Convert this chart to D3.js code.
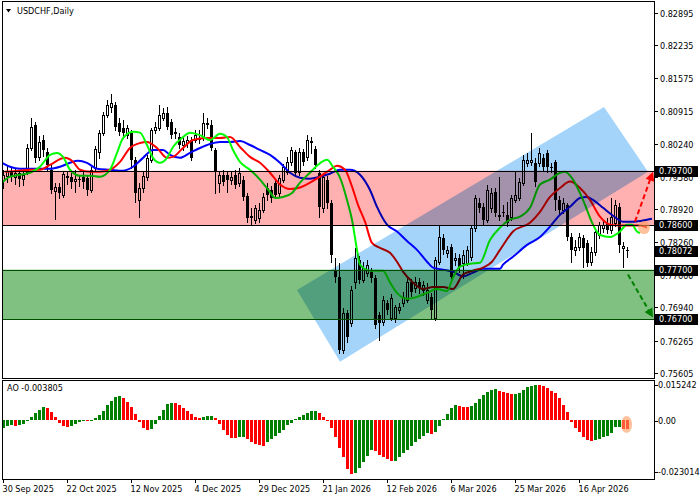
<!DOCTYPE html>
<html><head><meta charset="utf-8">
<script src="https://cdn.jsdelivr.net/npm/d3@7"></script>
<style>
body{margin:0;background:#fff}
svg{display:block}
text{font-family:"DejaVu Sans Condensed","DejaVu Sans","Liberation Sans",sans-serif;font-size:9px;fill:#000}
</style>
</head><body>
<svg id="c" width="700" height="500"></svg>
<script>
// ---------- DATA ----------
const symbolTitle = "USDCHF,Daily";
const aoTitle = "AO -0.003805";
const tickBars = [0,16,32,48,64,80,96,112,128,144];
const tickLabels = ["30 Sep 2025","22 Oct 2025","12 Nov 2025","4 Dec 2025","29 Dec 2025","21 Jan 2026","12 Feb 2026","6 Mar 2026","25 Mar 2026","16 Apr 2026"];
const priceTicks = [0.82895,0.82235,0.81575,0.80915,0.80240,0.79580,0.78920,0.78260,0.77600,0.76940,0.76265,0.75605];
const priceTickLabels = ["0.82895","0.82235","0.81575","0.80915","0.80240","0.79580","0.78920","0.78260","0.77600","0.76940","0.76265","0.75605"];
const markedPrices = [0.79700,0.78600,0.78072,0.77700,0.76700];
const markedLabels = ["0.79700","0.78600","0.78072","0.77700","0.76700"];
const aoTicks = [0.015242,0,-0.023014];
const aoTickLabels = ["0.015242","0.00","-0.023014"];
const resistanceZone = [0.78600,0.79700];
const supportZone = [0.76700,0.77700];
const channel = [[73.5,0.7729],[84.25,0.7584],[161.25,0.7968],[150.25,0.8099]];
const upArrow = [[158,0.7867],[162.5,0.7968]];
const downArrow = [[156.25,0.7760],[162.5,0.7673]];
const priceMark = [160.25,0.7855];
const aoMark = [155.9,-0.0018];

const open = [
.7952,.7960,.7970,.7958,.7966,.7954,.7968,.8016,.8063,.7998,
.8032,.8008,.7972,.7929,.7938,.7921,.7960,.7958,.7950,.7954,
.7958,.7956,.7931,.7976,.8008,.8047,.8083,.8099,.8103,.8067,
.8057,.8042,.8047,.7992,.7911,.7936,.7958,.7992,.8053,.8057,
.8077,.8087,.8069,.8049,.8038,.8022,.8026,.8032,.8032,.8036,
.8036,.8067,.8063,.8012,.7946,.7962,.7962,.7952,.7962,.7946,
.7952,.7919,.7877,.7871,.7875,.7891,.7936,.7931,.7946,.7925,
.7952,.7968,.7988,.8008,.7968,.8008,.7998,.8030,.8014,.7966,
.7895,.7952,.7905,.7770,.7756,.7608,.7683,.7663,.7744,.7790,
.7750,.7764,.7766,.7754,.7679,.7665,.7703,.7673,.7673,.7689,
.7703,.7709,.7744,.7733,.7746,.7729,.7709,.7715,.7673,.7786,
.7834,.7804,.7816,.7790,.7794,.7784,.7784,.7796,.7855,.7905,
.7897,.7871,.7895,.7927,.7881,.7887,.7881,.7877,.7911,.7915,
.7946,.7986,.7988,.7986,.7986,.7996,.8006,.7978,.7988,.7911,
.7891,.7901,.7836,.7810,.7816,.7834,.7824,.7786,.7806,.7840,
.7855,.7865,.7851,.7865,.7897,.7814,.7810];
const high = [
.7972,.7980,.7976,.7974,.7972,.7970,.8024,.8077,.8069,.8040,
.8042,.8016,.7982,.7946,.7946,.7968,.7968,.7966,.7972,.7962,
.7968,.7962,.7978,.8020,.8053,.8089,.8113,.8125,.8109,.8077,
.8073,.8063,.8053,.7998,.7946,.7968,.8002,.8057,.8069,.8103,
.8097,.8099,.8075,.8057,.8047,.8038,.8040,.8038,.8053,.8053,
.8087,.8077,.8073,.8016,.7968,.7972,.7968,.7968,.7972,.7976,
.7960,.7925,.7895,.7901,.7905,.7925,.7946,.7940,.7952,.7962,
.7984,.7998,.8018,.8012,.8016,.8014,.8042,.8038,.8020,.7972,
.7964,.7960,.7911,.7794,.7784,.7693,.7689,.7737,.7814,.7798,
.7786,.7790,.7774,.7760,.7685,.7717,.7709,.7721,.7699,.7703,
.7725,.7754,.7752,.7756,.7754,.7748,.7742,.7723,.7796,.7861,
.7842,.7818,.7822,.7804,.7802,.7810,.7818,.7861,.7921,.7915,
.7905,.7942,.7936,.7936,.7958,.7901,.7907,.7921,.7968,.7956,
.8002,.8006,.8047,.7996,.8016,.8004,.8012,.7986,.7992,.7919,
.7915,.7905,.7844,.7830,.7844,.7840,.7830,.7816,.7855,.7867,
.7871,.7875,.7915,.7911,.7905,.7826,.7816];
const low = [
.7936,.7948,.7950,.7944,.7940,.7942,.7964,.8012,.7988,.7992,
.8000,.7972,.7925,.7873,.7915,.7917,.7944,.7936,.7927,.7940,
.7936,.7921,.7927,.7972,.7996,.8042,.8079,.8089,.8053,.8042,
.8036,.8036,.7976,.7907,.7877,.7927,.7952,.7988,.8047,.8053,
.8073,.8055,.8036,.8036,.8016,.8012,.8018,.7992,.8028,.8026,
.8032,.8057,.8012,.7925,.7927,.7942,.7927,.7944,.7936,.7940,
.7911,.7867,.7861,.7865,.7867,.7887,.7911,.7907,.7915,.7919,
.7948,.7964,.7982,.7960,.7962,.7982,.7992,.8006,.7976,.7877,
.7887,.7895,.7786,.7744,.7602,.7602,.7624,.7657,.7733,.7742,
.7744,.7758,.7746,.7653,.7628,.7659,.7681,.7669,.7665,.7683,
.7697,.7705,.7717,.7725,.7723,.7719,.7703,.7673,.7669,.7782,
.7802,.7796,.7750,.7780,.7766,.7754,.7780,.7790,.7849,.7887,
.7863,.7867,.7887,.7879,.7871,.7879,.7859,.7871,.7907,.7911,
.7942,.7980,.7982,.7940,.7980,.7972,.7968,.7968,.7891,.7881,
.7885,.7830,.7786,.7800,.7810,.7776,.7778,.7780,.7800,.7834,
.7847,.7844,.7844,.7859,.7806,.7776,.7796];
const close = [
.7962,.7970,.7958,.7966,.7954,.7962,.8016,.8059,.7996,.8028,
.8012,.7982,.7931,.7938,.7925,.7964,.7956,.7948,.7954,.7952,
.7948,.7931,.7972,.8014,.8047,.8083,.8103,.8107,.8059,.8049,
.8047,.8057,.7992,.7925,.7936,.7960,.7996,.8053,.8059,.8083,
.8087,.8059,.8042,.8045,.8022,.8030,.8032,.7996,.8042,.8032,
.8067,.8063,.8016,.7968,.7962,.7948,.7952,.7958,.7942,.7966,
.7917,.7875,.7879,.7895,.7891,.7917,.7921,.7915,.7921,.7956,
.7978,.7988,.8012,.7966,.8008,.7988,.8032,.8026,.7982,.7897,
.7958,.7905,.7800,.7756,.7608,.7683,.7634,.7729,.7794,.7750,
.7774,.7780,.7754,.7659,.7663,.7709,.7689,.7713,.7695,.7695,
.7715,.7744,.7725,.7746,.7733,.7739,.7729,.7689,.7790,.7836,
.7810,.7810,.7756,.7794,.7776,.7800,.7810,.7855,.7915,.7895,
.7871,.7931,.7925,.7885,.7877,.7885,.7865,.7915,.7921,.7948,
.7992,.7992,.7992,.7948,.8006,.7978,.7978,.7976,.7911,.7891,
.7905,.7836,.7810,.7816,.7836,.7814,.7784,.7806,.7847,.7861,
.7861,.7851,.7877,.7901,.7820,.7818,.78072];

// Alligator lines: [bar, price]
const jawLine = [[-0.25,.7986],[1.75,.7978],[4.25,.7974],[9.25,.7974],[11.75,.7974],[14.25,.7978],[16.75,.7986],[18.75,.7990],[21,.7986],[23.5,.7974],[26.75,.7972],[30,.7970],[32.5,.7978],[35,.7996],[37.5,.8012],[40,.8012],[41.75,.8002],[44.25,.7996],[46.75,.8006],[49.25,.8016],[51.75,.8024],[54.25,.8028],[56.75,.8028],[59.25,.8030],[61.75,.8022],[64.25,.8012],[66.75,.8002],[69.25,.7986],[71.75,.7966],[74.25,.7956],[76.75,.7954],[79.25,.7958],[81.75,.7964],[84.25,.7972],[86.75,.7972],[89.25,.7962],[91.75,.7931],[93.5,.7897],[96,.7861],[98.5,.7847],[101,.7828],[103.5,.7810],[106,.7786],[107.5,.7774],[110,.7770],[112.5,.7766],[115,.7756],[117.5,.7764],[120,.7772],[124.25,.7772],[125,.7780],[127.5,.7796],[131,.7820],[134.25,.7836],[136.75,.7857],[139.25,.7881],[141.75,.7897],[144.25,.7915],[146,.7917],[147.5,.7911],[150,.7895],[152.5,.7879],[155,.7867],[157.5,.7867],[161,.7871],[162.25,.7873]];
const teethLine = [[0.5,.7968],[4.25,.7970],[6.75,.7972],[9.25,.7972],[11.75,.7982],[15.5,.7996],[17.5,.7988],[19.25,.7972],[21.75,.7968],[24.25,.7968],[26.75,.7972],[29.25,.7988],[31.75,.8016],[34.25,.8026],[36,.8028],[38.5,.8016],[41,.7996],[42.5,.7998],[45,.8016],[47.5,.8032],[51,.8036],[54.25,.8036],[56.75,.8038],[59.25,.8018],[61.75,.7998],[64.25,.7986],[66.75,.7966],[69.25,.7942],[71.75,.7933],[74.25,.7936],[76.75,.7946],[79.25,.7958],[81.75,.7972],[83.5,.7980],[85.5,.7972],[87.25,.7938],[88.75,.7901],[90.5,.7867],[92.25,.7824],[94.25,.7814],[96.75,.7804],[98.5,.7786],[100,.7766],[102.5,.7744],[105,.7731],[107.5,.7735],[110,.7735],[112.5,.7731],[115,.7760],[117.5,.7768],[120,.7774],[122.25,.7786],[124.25,.7810],[127.5,.7847],[131.75,.7865],[134.25,.7887],[136.75,.7917],[139.25,.7935],[141.75,.7948],[144.25,.7935],[146.75,.7911],[149.25,.7877],[151.75,.7861],[154.25,.7859],[159.25,.7859],[161,.7855]];
const lipsLine = [[-0.25,.7946],[1.75,.7958],[4.25,.7962],[6.75,.7966],[9.25,.7978],[11.75,.8002],[13.5,.8006],[15,.7998],[16.75,.7972],[19.25,.7960],[21.75,.7960],[24.25,.7958],[26.75,.7972],[28.5,.8006],[30,.8036],[32.5,.8049],[34.25,.8047],[36,.8022],[37.5,.7996],[39.25,.7986],[41,.7996],[42.5,.8018],[45,.8038],[46.75,.8047],[49.25,.8042],[51.75,.8032],[54.25,.8045],[56,.8038],[57.5,.8012],[59.25,.7988],[61.75,.7972],[64.25,.7952],[66.75,.7927],[68,.7915],[70,.7917],[72.25,.7925],[74.25,.7946],[76.75,.7966],[78.75,.7982],[81,.7992],[82.5,.7978],[84.25,.7956],[86,.7911],[87.25,.7871],[88.5,.7810],[89.25,.7780],[91.75,.7768],[95,.7768],[96.75,.7744],[98.5,.7723],[101,.7711],[103.5,.7715],[106,.7723],[108.5,.7731],[111,.7727],[112.5,.7754],[114.25,.7776],[116.75,.7782],[119.25,.7784],[121.75,.7830],[124.25,.7855],[126.75,.7871],[129.25,.7877],[131.75,.7895],[134.25,.7942],[136.75,.7952],[139.25,.7966],[140.5,.7968],[142.5,.7952],[145,.7911],[147.5,.7861],[149.25,.7840],[151.75,.7836],[154.25,.7847],[156,.7861],[157.25,.7861],[158.5,.7847],[159.25,.7844]];

const ao = [
-0.00315,-0.00233,-0.00206,-0.00247,-0.00192,-0.00164,-0.00041,0.00110,0.00274,0.00411,
0.00548,0.00507,0.00343,0.00137,-0.00110,-0.00247,-0.00274,-0.00247,-0.00164,-0.00096,
-0.00041,-0.00055,-0.00027,0.00069,0.00206,0.00370,0.00617,0.00795,0.00959,0.00973,
0.00918,0.00754,0.00548,0.00247,-0.00069,-0.00343,-0.00411,-0.00370,-0.00164,0.00164,
0.00411,0.00658,0.00712,0.00685,0.00617,0.00480,0.00384,0.00247,0.00137,0.00096,
0.00137,0.00164,0.00171,0.00069,-0.00164,-0.00411,-0.00617,-0.00726,-0.00740,-0.00712,
-0.00685,-0.00795,-0.00891,-0.00986,-0.01028,-0.01055,-0.00891,-0.00795,-0.00658,-0.00521,
-0.00411,-0.00206,-0.00137,0.00041,0.00110,0.00206,0.00274,0.00370,0.00384,0.00274,
0.00137,-0.00041,-0.00343,-0.00685,-0.01165,-0.01534,-0.02014,-0.02233,-0.02165,-0.01959,
-0.01713,-0.01480,-0.01233,-0.01260,-0.01439,-0.01534,-0.01617,-0.01685,-0.01671,-0.01507,
-0.01370,-0.01233,-0.01069,-0.00891,-0.00781,-0.00644,-0.00548,-0.00575,-0.00480,-0.00233,
0.00027,0.00247,0.00480,0.00617,0.00575,0.00548,0.00534,0.00575,0.00685,0.00849,
0.01028,0.01137,0.01233,0.01274,0.01192,0.01151,0.01123,0.01055,0.01069,0.01123,
0.01233,0.01370,0.01411,0.01438,0.01425,0.01397,0.01315,0.01192,0.01096,0.00904,
0.00617,0.00343,-0.00069,-0.00343,-0.00507,-0.00685,-0.00822,-0.00849,-0.00836,-0.00795,
-0.00712,-0.00644,-0.00521,-0.00301,-0.00274,-0.00356,-0.003805];

// ---------- LAYOUT ----------
const PL = 2, PR = 654, MT = 1, MB = 378, AT = 380, AB = 479;
const svg = d3.select("#c");
svg.append("rect").attr("width",700).attr("height",500).attr("fill","#fff");

const x = d3.scaleLinear().domain([0,156]).range([3,627]);
const y = d3.scaleLinear().domain([0.75509,0.83152]).range([MB,0]);
const ya = d3.scaleLinear().domain([-0.023014,0.015242]).range([476,383]);

const defs = svg.append("defs");
defs.append("clipPath").attr("id","cm").append("rect").attr("x",PL+1).attr("y",MT+1).attr("width",PR-PL-1).attr("height",MB-MT-1);
defs.append("clipPath").attr("id","ca").append("rect").attr("x",PL+1).attr("y",AT+1).attr("width",PR-PL-1).attr("height",AB-AT-1);

const main = svg.append("g").attr("clip-path","url(#cm)");

// candles
const idx = d3.range(open.length);
const cg = main.append("g").attr("shape-rendering","crispEdges");
cg.selectAll("line.w").data(idx).join("line")
  .attr("x1",i=>Math.round(x(i))+0.5).attr("x2",i=>Math.round(x(i))+0.5)
  .attr("y1",i=>Math.round(y(high[i]))).attr("y2",i=>Math.round(y(low[i]))+1)
  .attr("stroke","#000").attr("stroke-width",1);
cg.selectAll("rect.b").data(idx).join("rect")
  .attr("x",i=>close[i]>=open[i]? Math.round(x(i))-0.5 : Math.round(x(i))-1)
  .attr("y",i=>{const t=Math.round(y(Math.max(open[i],close[i]))); return close[i]>=open[i]? t+0.5 : t;})
  .attr("width",i=>close[i]>=open[i]?2:3)
  .attr("height",i=>{const t=Math.round(y(Math.max(open[i],close[i]))), b=Math.round(y(Math.min(open[i],close[i]))); return close[i]>=open[i]? Math.max(b-t,0.01) : Math.max(b-t,1);})
  .attr("fill",i=>close[i]>=open[i]?"#fff":"#000")
  .attr("stroke",i=>close[i]>=open[i]?"#000":"none").attr("stroke-width",1);

// alligator
const ln = d3.line().x(d=>x(d[0])).y(d=>y(d[1])).curve(d3.curveMonotoneX);
[[jawLine,"#0000ff"],[teethLine,"#ff0000"],[lipsLine,"#00ff00"]].forEach(([d,c])=>{
  main.append("path").attr("d",ln(d)).attr("fill","none").attr("stroke",c).attr("stroke-width",2);
});

// zones & channel (multiplied over chart)
main.append("rect").attr("x",PL).attr("width",PR-PL)
  .attr("y",y(resistanceZone[1])).attr("height",y(resistanceZone[0])-y(resistanceZone[1]))
  .attr("fill","#ffb0b0").style("mix-blend-mode","multiply");
main.append("rect").attr("x",PL).attr("width",PR-PL)
  .attr("y",y(supportZone[1])).attr("height",y(supportZone[0])-y(supportZone[1]))
  .attr("fill","#80c080").style("mix-blend-mode","multiply");
main.append("polygon").attr("points",channel.map(p=>[x(p[0]),y(p[1])].join(",")).join(" "))
  .attr("fill","#a4d4fa").style("mix-blend-mode","multiply");

const hl = main.append("g").attr("shape-rendering","crispEdges");
resistanceZone.forEach(v=>hl.append("line").attr("x1",PL).attr("x2",PR).attr("y1",Math.round(y(v))+0.5).attr("y2",Math.round(y(v))+0.5).attr("stroke","#000"));
supportZone.forEach(v=>hl.append("line").attr("x1",PL).attr("x2",PR).attr("y1",Math.round(y(v))+0.5).attr("y2",Math.round(y(v))+0.5).attr("stroke","#004d00"));

// orange highlight
main.append("ellipse").attr("cx",x(priceMark[0])).attr("cy",y(priceMark[1])).attr("rx",6).attr("ry",6.5)
  .attr("fill","#ff9a5a").attr("opacity",0.6);

// arrows
function arrow(a,color){
  const x1=x(a[0][0]),y1=y(a[0][1]),x2=x(a[1][0]),y2=y(a[1][1]);
  const ang=Math.atan2(y2-y1,x2-x1), hlen=9, hw=4.5;
  const bx=x2-hlen*Math.cos(ang), by=y2-hlen*Math.sin(ang);
  main.append("line").attr("x1",x1).attr("y1",y1).attr("x2",bx).attr("y2",by)
    .attr("stroke",color).attr("stroke-width",2).attr("stroke-dasharray","5,3");
  const px=-Math.sin(ang), py=Math.cos(ang);
  main.append("polygon").attr("points",[[x2,y2],[bx+px*hw,by+py*hw],[bx-px*hw,by-py*hw]].map(p=>p.join(",")).join(" "))
    .attr("fill",color);
}
arrow(upArrow,"#ff0000");
arrow(downArrow,"#008000");

// ---------- AO ----------
const ag = svg.append("g").attr("clip-path","url(#ca)").attr("shape-rendering","crispEdges");
ag.selectAll("rect").data(idx).join("rect")
  .attr("x",i=>Math.round(x(i))-1).attr("width",3)
  .attr("y",i=>Math.round(Math.min(ya(ao[i]),ya(0))))
  .attr("height",i=>Math.max(1,Math.round(Math.abs(ya(ao[i])-ya(0)))))
  .attr("fill",i=>(i===0||ao[i]>ao[i-1])?"#008000":"#ff0000");
svg.append("ellipse").attr("cx",x(aoMark[0])).attr("cy",ya(aoMark[1])).attr("rx",5.5).attr("ry",8.5)
  .attr("fill","#ff9a5a").attr("opacity",0.6);

// ---------- FRAMES ----------
const fr = svg.append("g").attr("shape-rendering","crispEdges").attr("fill","none").attr("stroke","#000");
fr.append("rect").attr("x",PL+0.5).attr("y",MT-0.5+1).attr("width",PR-PL).attr("height",MB-MT);
fr.append("rect").attr("x",PL+0.5).attr("y",AT+0.5).attr("width",PR-PL).attr("height",AB-AT);

// right axis (main)
const ax = svg.append("g");
priceTicks.forEach((v,k)=>{
  const yy=Math.round(y(v))+0.5;
  ax.append("line").attr("x1",PR+0.5).attr("x2",PR+4).attr("y1",yy).attr("y2",yy).attr("stroke","#000").attr("shape-rendering","crispEdges");
  ax.append("text").attr("x",660).attr("y",yy).attr("dy","0.35em").text(priceTickLabels[k]);
});
markedPrices.forEach((v,k)=>{
  const yy=y(v);
  ax.append("rect").attr("x",655).attr("y",Math.round(yy)-5).attr("width",43).attr("height",11).attr("fill","#000");
  ax.append("text").attr("x",659).attr("y",yy).attr("dy","0.35em").style("fill","#fff").text(markedLabels[k]);
});
// right axis (AO)
aoTicks.forEach((v,k)=>{
  const yy=[385,420.5,471.5][k];
  ax.append("line").attr("x1",PR+0.5).attr("x2",PR+4).attr("y1",Math.round(yy)+0.5).attr("y2",Math.round(yy)+0.5).attr("stroke","#000").attr("shape-rendering","crispEdges");
  ax.append("text").attr("x",658).attr("y",yy).attr("dy","0.35em").text(aoTickLabels[k]);
});
// x axis
tickBars.forEach((b,k)=>{
  const xx=Math.round(x(b))+0.5;
  ax.append("line").attr("x1",xx).attr("x2",xx).attr("y1",AB).attr("y2",AB+4).attr("stroke","#000").attr("shape-rendering","crispEdges");
  ax.append("text").attr("x",xx-1).attr("y",491.5).text(tickLabels[k]);
});

// titles
svg.append("polygon").attr("points","6,9 11,9 8.5,12.5").attr("fill","#000");
svg.append("text").attr("x",17).attr("y",11).attr("dy","0.35em").text(symbolTitle);
svg.append("text").attr("x",7).attr("y",388).attr("dy","0.35em").text(aoTitle);
</script>
</body></html>
